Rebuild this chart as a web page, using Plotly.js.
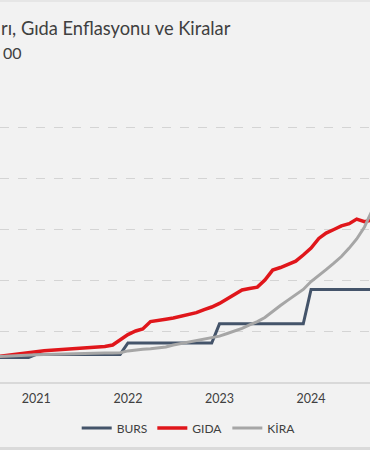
<!DOCTYPE html>
<html>
<head>
<meta charset="utf-8">
<script src="https://cdn.plot.ly/plotly-3.0.1.min.js"></script>
<style>
html,body{margin:0;padding:0;background:#f2f2f2;}
#chart{width:370px;height:450px;}
</style>
</head>
<body>
<div id="chart"></div>
<script>
var months = [
 '2020-08-01','2020-09-01','2020-10-01','2020-11-01','2020-12-01',
 '2021-01-01','2021-02-01','2021-03-01','2021-04-01','2021-05-01','2021-06-01',
 '2021-07-01','2021-08-01','2021-09-01','2021-10-01','2021-11-01','2021-12-01',
 '2022-01-01','2022-02-01','2022-03-01','2022-04-01','2022-05-01','2022-06-01',
 '2022-07-01','2022-08-01','2022-09-01','2022-10-01','2022-11-01','2022-12-01',
 '2023-01-01','2023-02-01','2023-03-01','2023-04-01','2023-05-01','2023-06-01',
 '2023-07-01','2023-08-01','2023-09-01','2023-10-01','2023-11-01','2023-12-01',
 '2024-01-01','2024-02-01','2024-03-01','2024-04-01','2024-05-01','2024-06-01',
 '2024-07-01','2024-08-01','2024-09-01'
];
var burs = [
 96,96,96,96,96,
 108,108,108,108,108,108,108,108,108,108,108,108,
 153,153,153,153,153,153,153,153,153,153,153,153,
 228,228,228,228,228,228,228,228,228,228,228,228,
 363,363,363,363,363,363,363,363,363
];
var gida = [
 100,104,110,114,118,
 121,123,125,127,128,129,131,133,135,139,145,165,
 186,200,208,237,240,246,251,257,263,272,284,294,
 308,325,343,361,367,372,400,439,449,463,474,498,
 525,563,584,598,612,621,639,629,635
];
var kira = [
 100,102,103,104,106,
 107,108,109,110,110,111,111,112,113,114,114,115,
 122,126,128,130,133,137,145,151,157,163,169,174,
 180,190,200,210,224,237,253,278,300,321,343,363,
 394,417,441,466,492,525,561,608,674
];
var seriesNames = ['BURS','GIDA','KİRA'];
var titleLine1 = 'rı, Gıda Enflasyonu ve Kiralar';
var titleLine2 = '00';
var yearTicks = ['2021-01-01','2022-01-01','2023-01-01','2024-01-01'];
var yearLabels = ['2021','2022','2023','2024'];

var FONT = 'Lato, "Open Sans", sans-serif';
var traces = [
 {x: months, y: burs, name: seriesNames[0], type:'scatter', mode:'lines',
  line:{color:'#44546a', width:3}},
 {x: months, y: gida, name: seriesNames[1], type:'scatter', mode:'lines',
  line:{color:'#e0161b', width:3.5}},
 {x: months, y: kira, name: seriesNames[2], type:'scatter', mode:'lines',
  line:{color:'#a6a6a6', width:3}}
];
var layout = {
 width:370, height:450,
 margin:{l:0, r:0, t:76, b:68, pad:0},
 paper_bgcolor:'#f2f2f2', plot_bgcolor:'#f2f2f2',
 font:{family:FONT, color:'#595959', size:12},
 showlegend:true,
 legend:{orientation:'h', x:0.51, xanchor:'center', y:-0.15, yanchor:'middle',
  font:{family:FONT, size:12, color:'#404040'}, bgcolor:'rgba(0,0,0,0)', itemwidth:30},
 xaxis:{type:'date', range:['2020-08-09','2024-08-23'], tickvals:yearTicks, ticktext:yearLabels,
  showgrid:false, zeroline:false, showline:true, linecolor:'#d9d9d9', linewidth:1.5,
  ticks:'', ticklabelstandoff:4, tickfont:{family:FONT, size:12.5, color:'#404040'}, fixedrange:true},
 yaxis:{range:[0,1200], dtick:200, tick0:0, showticklabels:false, showgrid:true,
  gridcolor:'#d4d4d4', griddash:'dash', gridwidth:1, zeroline:false, ticks:'', fixedrange:true},
 annotations:[
  {text:titleLine1, xref:'paper', yref:'paper', x:-0.003, xanchor:'left', y:1.1555, yanchor:'middle',
   showarrow:false, font:{family:FONT, size:18.3, color:'#404040'}},
  {text:titleLine2, xref:'paper', yref:'paper', x:0.003, xanchor:'left', y:1.0752, yanchor:'middle',
   showarrow:false, font:{family:FONT, size:16, color:'#404040'}}
 ],
 shapes:[
  {type:'rect', xref:'paper', yref:'paper', x0:0, x1:1, y0:(382-447)/306, y1:(382-451)/306,
   line:{width:0}, fillcolor:'#dadada'},
  {type:'rect', xref:'paper', yref:'paper', x0:0, x1:1, y0:(382-0)/306, y1:(382-2)/306,
   line:{width:0}, fillcolor:'#e6e6e6'}
 ]
};
Plotly.newPlot('chart', traces, layout, {displayModeBar:false, staticPlot:true});
</script>
</body>
</html>
